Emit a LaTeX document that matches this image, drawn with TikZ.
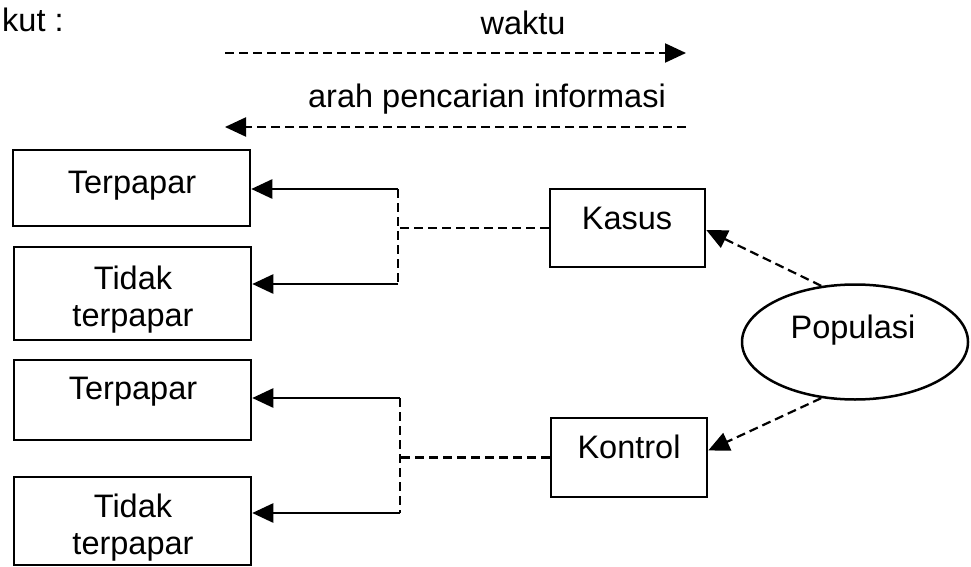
\documentclass[tikz,border=0pt]{standalone}
\usepackage{fontspec}
\setmainfont{Liberation Sans}
\usetikzlibrary{arrows.meta,shapes.geometric}
\begin{document}
\begin{tikzpicture}[x=1pt,y=-1pt,
  txt/.style={font=\fontsize{32.5}{37}\selectfont, inner sep=0pt, anchor=base},
  mtxt/.style={font=\fontsize{32.5}{37}\selectfont, inner sep=0pt, anchor=north, align=center},
  box/.style={draw, line width=2.5pt, inner sep=0pt},
  conn/.style={line width=2.5pt},
  dsh/.style={line width=2.2pt, dash pattern=on 9pt off 5pt},
  tip/.style={-{Triangle[length=21pt,width=19pt]}},
]
\useasboundingbox (0,0) rectangle (971,567);

% heading fragment
\node[txt, anchor=base west] (head) at (2,32) {kut :};

% time arrows
\node[txt] (waktu) at (523,35) {waktu};
\coordinate (w1) at (225,53);
\coordinate (w2) at (686,53);
\draw[dsh,tip] (w1) -- (w2);
\node[txt] (arah) at (487,108) {arah pencarian informasi};
\coordinate (a1) at (686,127);
\coordinate (a2) at (225,127);
\draw[dsh,tip] (a1) -- (a2);

% left boxes
\node[box, minimum width=237pt, minimum height=76pt] (t1) at (131.5,188) {};
\node[txt] (t1l) at (132,193) {Terpapar};
\node[box, minimum width=237pt, minimum height=93pt] (n1) at (132.5,293.5) {};
\node[mtxt] (n1l) at (133,266) {Tidak\\terpapar};
\node[box, minimum width=237pt, minimum height=80pt] (t2) at (132.5,400) {};
\node[txt] (t2l) at (133,399) {Terpapar};
\node[box, minimum width=237pt, minimum height=88pt] (n2) at (132.5,521) {};
\node[mtxt] (n2l) at (133,494) {Tidak\\terpapar};

% case / control
\node[box, minimum width=155pt, minimum height=78pt] (kasus) at (627.5,228) {};
\node[txt] (kasusl) at (627,229) {Kasus};
\node[box, minimum width=156pt, minimum height=79pt] (kontrol) at (629,457.5) {};
\node[txt] (kontroll) at (629,458) {Kontrol};

% population
\node[draw, ellipse, line width=2.5pt, minimum width=226pt, minimum height=115pt, inner sep=0pt] (pop) at (855,342) {};
\node[txt] (popl) at (853,338) {Populasi};

% brackets
\coordinate (b1a) at (398,189);
\coordinate (b1b) at (398,284);
\coordinate (b2a) at (400,398);
\coordinate (b2b) at (400,513);
\draw[dsh] (kasus.west) -- (kasus.west -| b1a);
\draw[dsh] (b1a) -- (b1b);
\draw[conn,tip] (b1a) -- (b1a -| t1.east);
\draw[conn,tip] (b1b) -- (b1b -| n1.east);
\draw[dsh] (kontrol.west) -- (kontrol.west -| b2a);
\draw[dsh] (b2a) -- (b2b);
\draw[conn,tip] (b2a) -- (b2a -| t2.east);
\draw[conn,tip] (b2b) -- (b2b -| n2.east);

% population arrows
\draw[dsh,tip] (pop.121) -- ([yshift=-2pt]kasus.east);
\draw[dsh,tip] (pop.-121) -- ([yshift=7pt]kontrol.east);
\end{tikzpicture}
\end{document}
